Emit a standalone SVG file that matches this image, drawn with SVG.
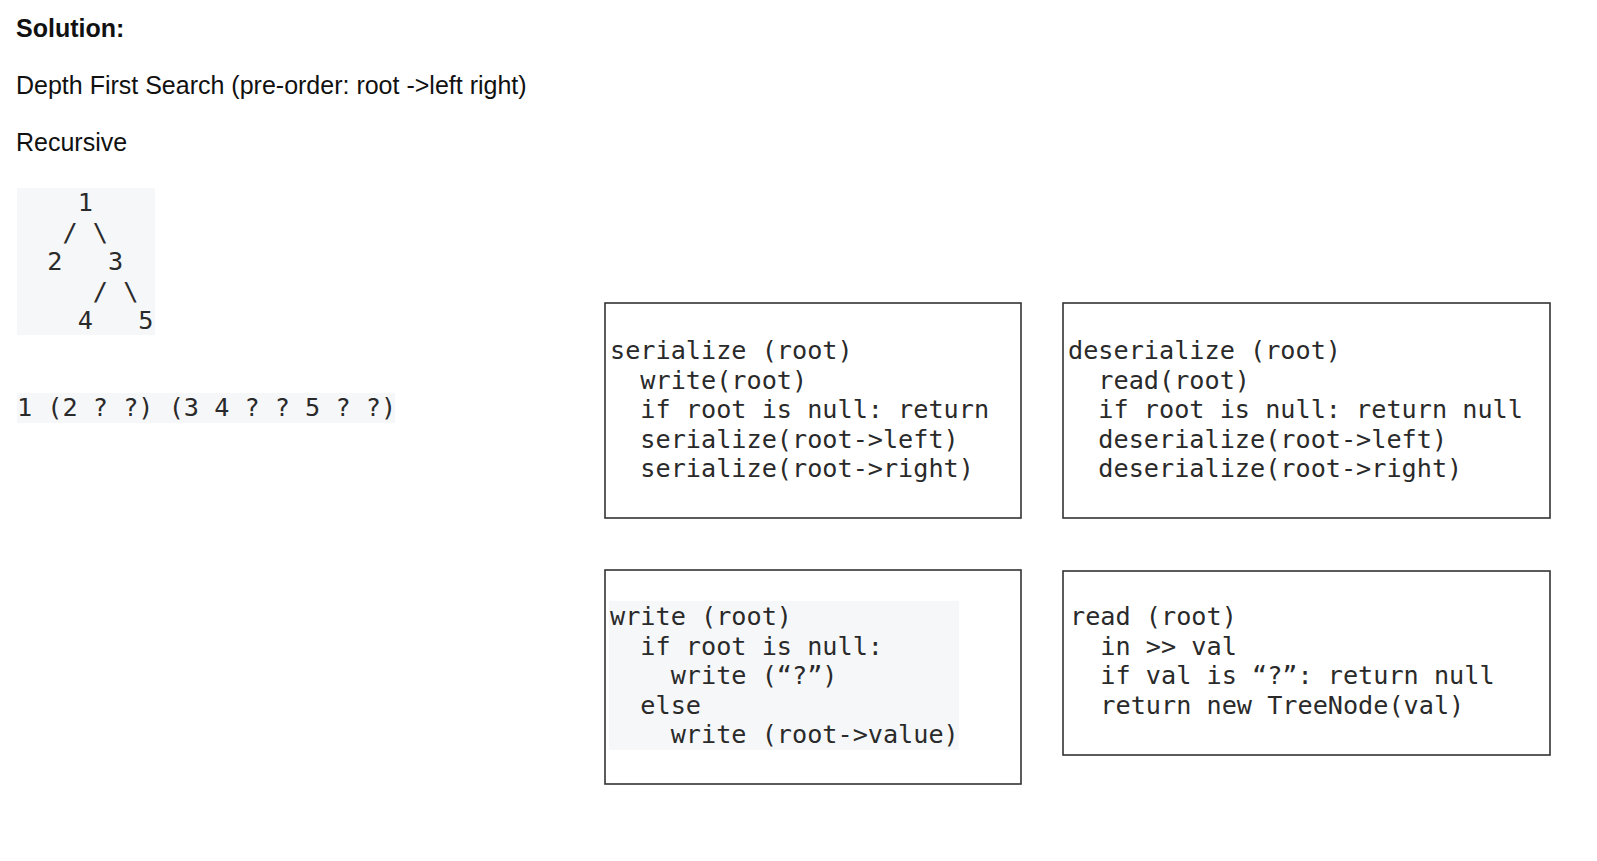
<svg xmlns="http://www.w3.org/2000/svg" width="1597" height="861" viewBox="0 0 1597 861">
<style>
.h{font-family:"Liberation Sans",Arial,sans-serif;font-size:25px;fill:#111}
.b{font-weight:bold}
.m{font-family:"DejaVu Sans Mono",monospace;font-size:25.2px;fill:#2a2a2a;white-space:pre}
.box{fill:#fff;stroke:#333;stroke-width:1.6}
.hl{fill:#f6f7f9}
</style>
<rect width="1597" height="861" fill="#fff"/>
<g id="headings">
<text class="h b" x="16" y="37">Solution:</text>
<text class="h" x="16" y="94">Depth First Search (pre-order: root -&gt;left right)</text>
<text class="h" x="16" y="151">Recursive</text>
</g>
<g id="tree">
<rect class="hl" x="17" y="188" width="138" height="147"/>
<text class="m" xml:space="preserve"><tspan x="17" y="211">    1</tspan><tspan x="17" y="240.5">   / \</tspan><tspan x="17" y="270">  2   3</tspan><tspan x="17" y="299.5">     / \</tspan><tspan x="17" y="329">    4   5</tspan></text>
</g>
<g id="sequence">
<rect class="hl" x="17" y="393" width="378" height="30"/>
<text class="m" x="17" y="416" xml:space="preserve">1 (2 ? ?) (3 4 ? ? 5 ? ?)</text>
</g>
<g id="serialize">
<rect class="box" x="605" y="303" width="416" height="215"/>
<text class="m" xml:space="preserve"><tspan x="610" y="359">serialize (root)</tspan><tspan x="610" y="388.5">  write(root)</tspan><tspan x="610" y="418">  if root is null: return</tspan><tspan x="610" y="447.5">  serialize(root-&gt;left)</tspan><tspan x="610" y="477">  serialize(root-&gt;right)</tspan></text>
</g>
<g id="deserialize">
<rect class="box" x="1063" y="303" width="487" height="215"/>
<text class="m" xml:space="preserve"><tspan x="1068" y="359">deserialize (root)</tspan><tspan x="1068" y="388.5">  read(root)</tspan><tspan x="1068" y="418">  if root is null: return null</tspan><tspan x="1068" y="447.5">  deserialize(root-&gt;left)</tspan><tspan x="1068" y="477">  deserialize(root-&gt;right)</tspan></text>
</g>
<g id="write">
<rect class="box" x="605" y="570" width="416" height="214"/>
<rect class="hl" x="609" y="601" width="350" height="149"/>
<text class="m" xml:space="preserve"><tspan x="610" y="625">write (root)</tspan><tspan x="610" y="654.5">  if root is null:</tspan><tspan x="610" y="684">    write (“?”)</tspan><tspan x="610" y="713.5">  else</tspan><tspan x="610" y="743">    write (root-&gt;value)</tspan></text>
</g>
<g id="read">
<rect class="box" x="1063" y="571" width="487" height="184"/>
<text class="m" xml:space="preserve"><tspan x="1070" y="625">read (root)</tspan><tspan x="1070" y="654.5">  in &gt;&gt; val</tspan><tspan x="1070" y="684">  if val is “?”: return null</tspan><tspan x="1070" y="713.5">  return new TreeNode(val)</tspan></text>
</g>
<g id="connectors"></g>
</svg>
